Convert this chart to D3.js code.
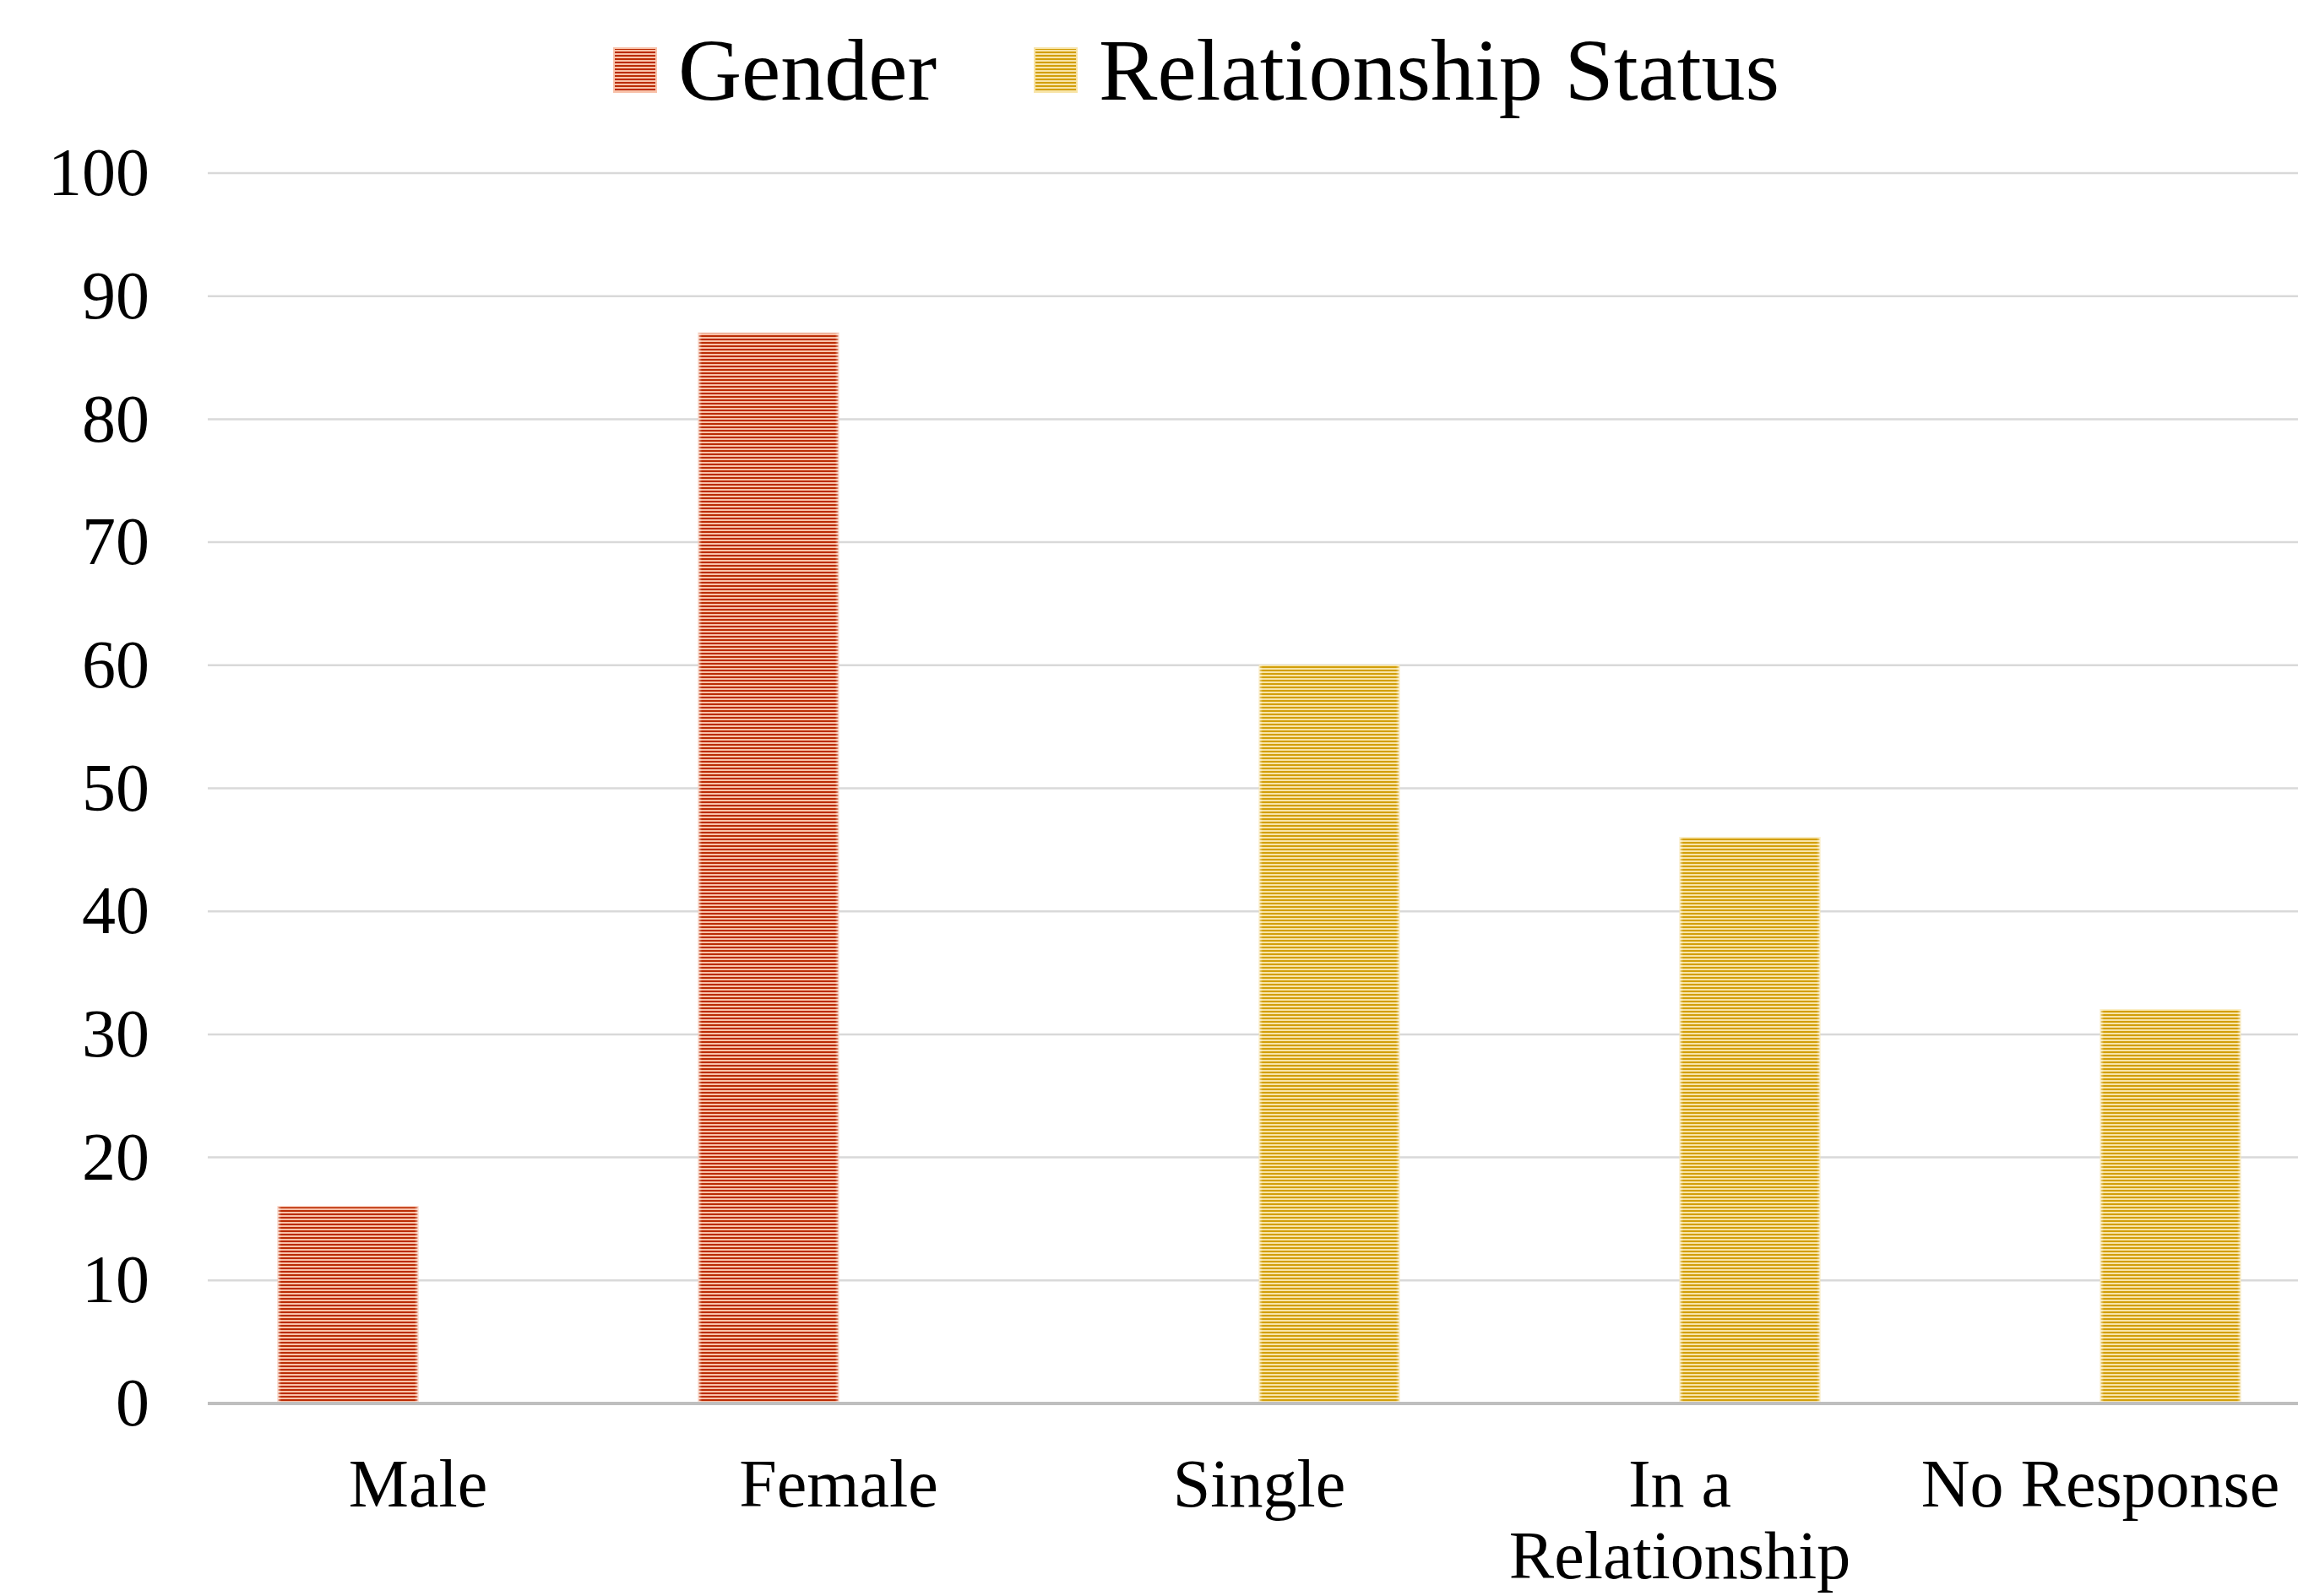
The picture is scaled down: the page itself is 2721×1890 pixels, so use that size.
<!DOCTYPE html>
<html>
<head>
<meta charset="utf-8">
<script src="https://cdn.jsdelivr.net/npm/d3@7"></script>
<style>
  html, body { margin: 0; padding: 0; background: #fff; }
  svg { display: block; font-family: "Times New Roman", "Liberation Serif", serif; }
</style>
</head>
<body>
<svg id="chart" width="2721" height="1890"></svg>
<script>
// data
const categories = ["Male", "Female", "Single", "In a Relationship", "No Response"];
const seriesNames = ["Gender", "Relationship Status"];
const genderValues = [16, 87, null, null, null];
const relationshipValues = [null, null, 60, 46, 32];
const yTicks = [0, 10, 20, 30, 40, 50, 60, 70, 80, 90, 100];

const seriesValues = [genderValues, relationshipValues];
const stripes = [
    {dark: "#bb2c04", light: "#f8c2aa"},
    {dark: "#d29f0a", light: "#f8e4a8"}
];

const width = 2721, height = 1890;
// plot area runs a bit past the right edge of the picture, as in the original
const plot = {left: 246, right: 2736, top: 205, bottom: 1662};

const svg = d3.select("#chart");
const defs = svg.append("defs");

// horizontal line pattern, like the office "narrow horizontal" fill
stripes.forEach((c, i) => {
    const p = defs.append("pattern")
        .attr("id", "stripe" + i)
        .attr("patternUnits", "userSpaceOnUse")
        .attr("width", 8).attr("height", 4);
    p.append("rect").attr("width", 8).attr("height", 4).attr("fill", c.light);
    p.append("rect").attr("y", 1).attr("width", 8).attr("height", 2).attr("fill", c.dark);
});

// soft light edges on the bars
const edge = defs.append("linearGradient").attr("id", "edge");
[[0, 0.55], [0.025, 0], [0.975, 0], [1, 0.55]].forEach(([o, a]) => {
    edge.append("stop").attr("offset", o).attr("stop-color", "#fff").attr("stop-opacity", a);
});

const x0 = d3.scaleBand()
    .domain(categories)
    .range([plot.left, plot.right])
    .paddingInner(1 / 3)
    .paddingOuter(1 / 6);

const x1 = d3.scaleBand()
    .domain(d3.range(seriesNames.length))
    .range([0, x0.bandwidth()]);

const y = d3.scaleLinear()
    .domain([0, 100])
    .range([plot.bottom, plot.top]);

// gridlines
svg.append("g")
    .selectAll("line")
    .data(yTicks.filter(t => t > 0))
    .join("line")
    .attr("x1", plot.left).attr("x2", plot.right)
    .attr("y1", d => y(d)).attr("y2", d => y(d))
    .attr("stroke", "#d9d9d9")
    .attr("stroke-width", 2.5);

// y axis labels
const yAxis = d3.axisLeft(y).tickValues(yTicks).tickSize(0).tickPadding(69);
const yg = svg.append("g").attr("transform", `translate(${plot.left},0)`).call(yAxis);
yg.select(".domain").remove();
yg.selectAll("text")
    .attr("font-size", 80)
    .attr("fill", "#000")
    .attr("font-family", "\"Times New Roman\", \"Liberation Serif\", serif");

// bars
seriesValues.forEach((vals, si) => {
    const data = categories.map((c, i) => ({cat: c, v: vals[i]})).filter(d => d.v != null);
    const g = svg.append("g");
    g.selectAll("rect.bar")
        .data(data)
        .join("rect")
        .attr("class", "bar")
        .attr("x", d => x0(d.cat) + x1(si))
        .attr("y", d => y(d.v))
        .attr("width", x1.bandwidth())
        .attr("height", d => y(0) - y(d.v))
        .attr("fill", `url(#stripe${si})`)
        .attr("stroke", stripes[si].light)
        .attr("stroke-opacity", 0.6)
        .attr("stroke-width", 1.5);
    g.selectAll("rect.shade")
        .data(data)
        .join("rect")
        .attr("class", "shade")
        .attr("x", d => x0(d.cat) + x1(si))
        .attr("y", d => y(d.v))
        .attr("width", x1.bandwidth())
        .attr("height", d => y(0) - y(d.v))
        .attr("fill", "url(#edge)");
});

// x axis line
svg.append("line")
    .attr("x1", plot.left).attr("x2", plot.right)
    .attr("y1", y(0)).attr("y2", y(0))
    .attr("stroke", "#bfbfbf")
    .attr("stroke-width", 4);

// x labels, wrapped to the band width
const xLabels = svg.append("g")
    .attr("font-size", 80)
    .attr("text-anchor", "middle");

categories.forEach(cat => {
    const cx = x0(cat) + x0.bandwidth() / 2;
    const t = xLabels.append("text").attr("x", cx).attr("y", 1784);
    const words = cat.split(" ");
    let line = [];
    let tspan = t.append("tspan").attr("x", cx).attr("dy", 0);
    words.forEach(w => {
        line.push(w);
        tspan.text(line.join(" "));
        if (tspan.node().getComputedTextLength() > x0.step() && line.length > 1) {
            line.pop();
            tspan.text(line.join(" "));
            line = [w];
            tspan = t.append("tspan").attr("x", cx).attr("dy", 85).text(w);
        }
    });
});

// legend
const legend = svg.append("g").attr("font-size", 104);
let lx = 727;
seriesNames.forEach((name, i) => {
    legend.append("rect")
        .attr("x", lx).attr("y", 57)
        .attr("width", 50).attr("height", 52)
        .attr("fill", `url(#stripe${i})`)
        .attr("stroke", stripes[i].light)
        .attr("stroke-width", 2);
    const t = legend.append("text")
        .attr("x", lx + 76).attr("y", 118)
        .text(name);
    lx += 76 + t.node().getComputedTextLength() + 116;
});
</script>
</body>
</html>
